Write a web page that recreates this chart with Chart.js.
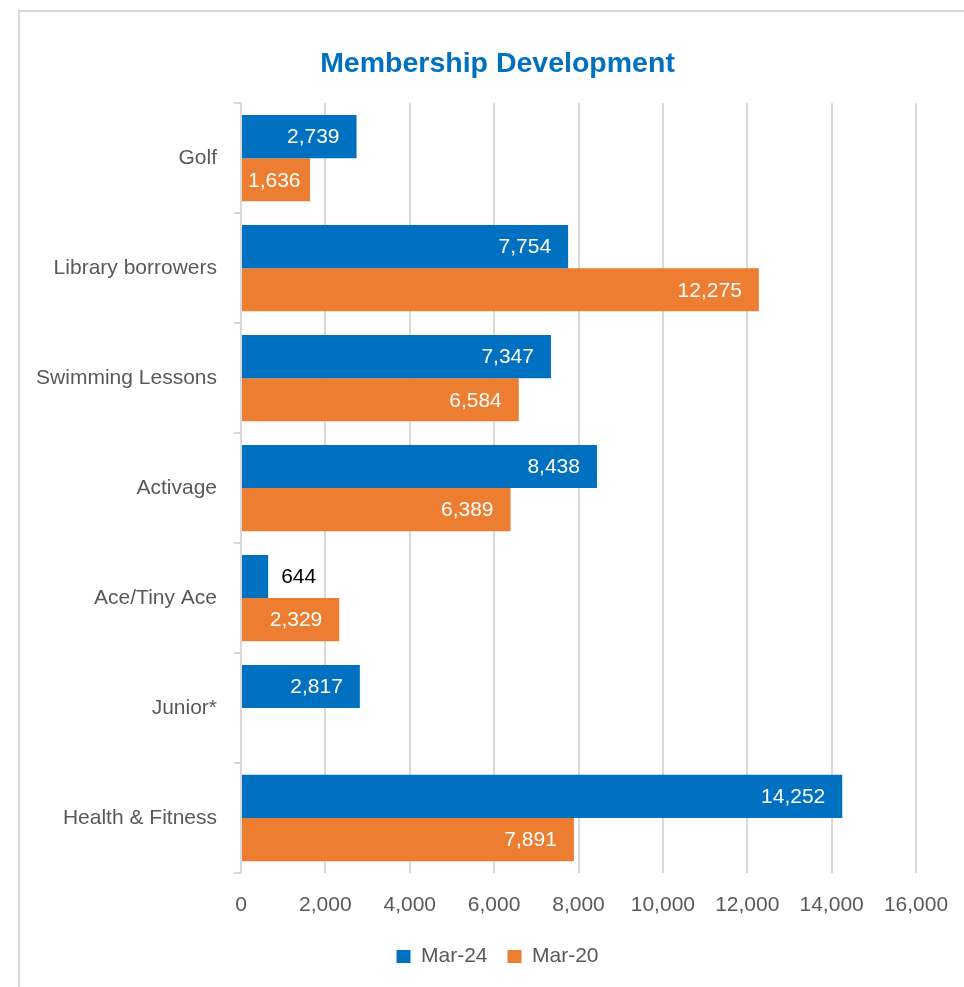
<!DOCTYPE html>
<html>
<head>
<meta charset="utf-8">
<title>Membership Development</title>
<script src="https://cdn.jsdelivr.net/npm/chart.js@4.4.1/dist/chart.umd.min.js"></script>
<style>
  html, body { margin: 0; padding: 0; background: #fff; overflow: hidden; }
  #wrap { position: relative; width: 964px; height: 987px; }
  #frame { position: absolute; left: 18px; top: 10px; width: 1000px; height: 1000px; border: 2px solid #d9d9d9; box-sizing: border-box; }
  #chartBox { position: absolute; left: 0; top: 0; width: 964px; height: 987px; }
</style>
</head>
<body>
<div id="wrap">
  <div id="frame"></div>
  <div id="chartBox"><canvas id="barChart"></canvas></div>
</div>
<script>
const categories = ["Golf", "Library borrowers", "Swimming Lessons", "Activage", "Ace/Tiny Ace", "Junior*", "Health & Fitness"];
const mar24 = [2739, 7754, 7347, 8438, 644, 2817, 14252];
const mar20 = [1636, 12275, 6584, 6389, 2329, null, 7891];
const xTickLabels = ["0", "2,000", "4,000", "6,000", "8,000", "10,000", "12,000", "14,000", "16,000"];

const FONT = "'Liberation Sans', Arial, sans-serif";
const GREY = "#595959";
const PAD_LEFT = 31;

// value labels at the end of each bar, white inside, black when the bar is too short
const barLabels = {
  id: "barLabels",
  afterDatasetsDraw(chart) {
    const ctx = chart.ctx;
    ctx.save();
    ctx.font = "21px " + FONT;
    ctx.textBaseline = "middle";
    chart.data.datasets.forEach((ds, di) => {
      const meta = chart.getDatasetMeta(di);
      meta.data.forEach((bar, i) => {
        const v = ds.data[i];
        if (v == null) return;
        const text = v.toLocaleString("en-US");
        const tw = ctx.measureText(text).width;
        const len = bar.x - bar.base;
        if (len > tw + 12) {
          ctx.fillStyle = "#ffffff";
          ctx.textAlign = "right";
          ctx.fillText(text, Math.max(bar.x - 17, bar.base + 6 + tw), bar.y + 1);
        } else {
          ctx.fillStyle = "#000000";
          ctx.textAlign = "left";
          ctx.fillText(text, bar.x + 13, bar.y + 1);
        }
      });
    });
    ctx.restore();
  }
};

new Chart(document.getElementById("barChart"), {
  type: "bar",
  data: {
    labels: categories,
    datasets: [
      { label: "Mar-24", data: mar24, backgroundColor: "#0070C0", categoryPercentage: 0.785, barPercentage: 1.0, yAxisID: "y" },
      { label: "Mar-20", data: mar20, backgroundColor: "#ED7D31", categoryPercentage: 0.785, barPercentage: 1.0, yAxisID: "y" }
    ]
  },
  options: {
    indexAxis: "y",
    responsive: true,
    maintainAspectRatio: false,
    animation: false,
    layout: { padding: { left: PAD_LEFT, right: 0, top: 10, bottom: 10 } },
    plugins: {
      title: {
        display: true,
        text: "Membership Development",
        color: "#0070C0",
        font: { family: FONT, size: 28.5, weight: "bold" },
        padding: { top: 37, bottom: 22 }
      },
      legend: {
        position: "bottom",
        labels: {
          color: GREY,
          font: { family: FONT, size: 21 },
          boxWidth: 14,
          boxHeight: 13,
          padding: 20
        }
      },
      tooltip: { enabled: false }
    },
    scales: {
      x: {
        min: 0,
        max: 16000,
        ticks: {
          stepSize: 2000,
          color: GREY,
          font: { family: FONT, size: 21 },
          padding: 20,
          callback: (v, i) => xTickLabels[i]
        },
        grid: { color: "#d9d9d9", lineWidth: 2, drawTicks: false },
        border: { display: false },
        afterFit: s => { s.height = 53; s.paddingRight = 32; }
      },
      y: {
        ticks: { color: GREY, font: { family: FONT, size: 21 }, padding: 17 },
        grid: { offset: true, drawOnChartArea: false, tickLength: 7, color: "#d9d9d9", lineWidth: 2 },
        border: { color: "#d9d9d9", width: 2 },
        afterFit: s => { s.width = 241 - PAD_LEFT; }
      },
      // empty margin on the right so the plot ends at 16,000 with room for its label
      yRight: {
        position: "right",
        grid: { display: false },
        ticks: { display: false },
        border: { display: false },
        afterFit: s => { s.width = 48; }
      }
    }
  },
  plugins: [barLabels]
});
</script>
</body>
</html>
